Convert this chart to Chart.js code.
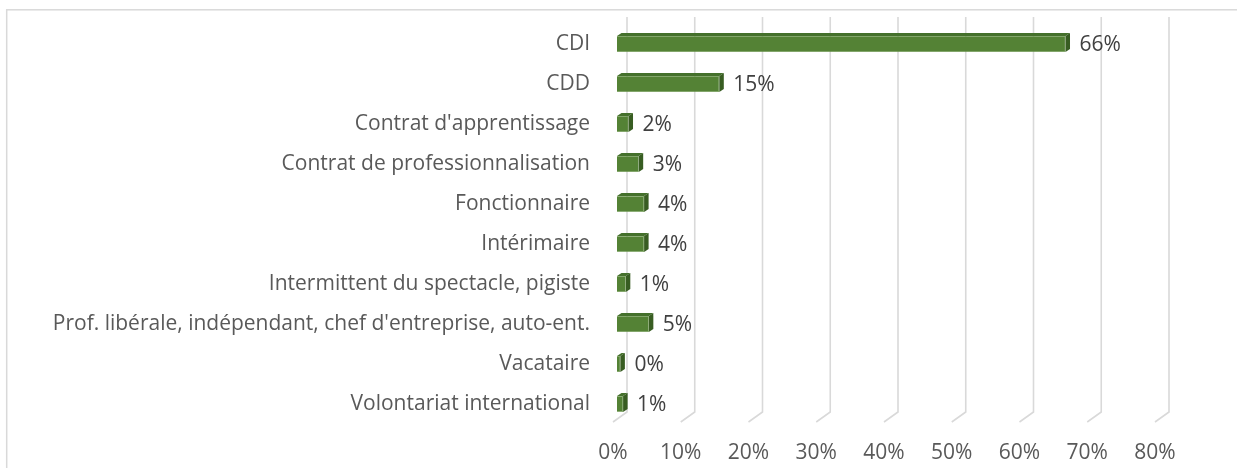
<!DOCTYPE html>
<html>
<head>
<meta charset="utf-8">
<script src="https://cdn.jsdelivr.net/npm/chart.js@4"></script>
<style>
  html, body { margin: 0; padding: 0; background: #fff; }
  #wrap { width: 1237px; height: 468px; }
</style>
</head>
<body>
<div id="wrap"><canvas id="contrats" width="1237" height="468"></canvas></div>
<script>
const categories = [
  "CDI",
  "CDD",
  "Contrat d'apprentissage",
  "Contrat de professionnalisation",
  "Fonctionnaire",
  "Intérimaire",
  "Intermittent du spectacle, pigiste",
  "Prof. libérale, indépendant, chef d'entreprise, auto-ent.",
  "Vacataire",
  "Volontariat international"
];
// share of respondents (fraction)
const shares = [0.662, 0.151, 0.017, 0.032, 0.040, 0.040, 0.013, 0.047, 0.005, 0.009];
const shareLabels = ["66%", "15%", "2%", "3%", "4%", "4%", "1%", "5%", "0%", "1%"];
const axisMax = 0.8;
const axisStep = 0.1;

const FONT = "'Open Sans', sans-serif";
const FONT_SIZE = 21;
const DEPTH_X = 4.5, DEPTH_Y = 3;

// chart frame
const framePlugin = {
  id: "frame",
  beforeDraw(chart) {
    const ctx = chart.ctx;
    ctx.save();
    ctx.strokeStyle = "#d9d9d9";
    ctx.lineWidth = 1.5;
    ctx.strokeRect(6.7, 9.8, 1300, 500);
    ctx.restore();
  }
};

// back wall gridlines with the slanted floor segment
const wallGrid = {
  id: "wallGrid",
  beforeDatasetsDraw(chart) {
    const ctx = chart.ctx;
    const xs = chart.scales.x;
    const area = chart.chartArea;
    ctx.save();
    ctx.strokeStyle = "#d9d9d9";
    ctx.lineWidth = 1.6;
    for (let v = 0; v <= axisMax + 1e-9; v += axisStep) {
      const x = xs.getPixelForValue(v);
      ctx.beginPath();
      ctx.moveTo(x + 10, area.top - 7);
      ctx.lineTo(x + 10, area.bottom - 12);
      ctx.lineTo(x - 4, area.bottom - 2);
      ctx.stroke();
    }
    ctx.restore();
  }
};

// top and side faces of the bars, plus value labels
const bars3d = {
  id: "bars3d",
  afterDatasetsDraw(chart) {
    const ctx = chart.ctx;
    const meta = chart.getDatasetMeta(0);
    ctx.save();
    meta.data.forEach((bar, i) => {
      const p = bar.getProps(["x", "y", "base", "height"], true);
      const top = p.y - p.height / 2;
      const bottom = p.y + p.height / 2;
      const left = p.base, right = p.x;
      ctx.fillStyle = "#44702b";
      ctx.beginPath();
      ctx.moveTo(left, top);
      ctx.lineTo(left + DEPTH_X, top - DEPTH_Y);
      ctx.lineTo(right + DEPTH_X, top - DEPTH_Y);
      ctx.lineTo(right, top);
      ctx.closePath();
      ctx.fill();
      ctx.fillStyle = "#385d22";
      ctx.beginPath();
      ctx.moveTo(right, top);
      ctx.lineTo(right + DEPTH_X, top - DEPTH_Y);
      ctx.lineTo(right + DEPTH_X, bottom - DEPTH_Y);
      ctx.lineTo(right, bottom);
      ctx.closePath();
      ctx.fill();

      ctx.fillStyle = "#404040";
      ctx.font = FONT_SIZE + "px " + FONT;
      ctx.textAlign = "left";
      ctx.textBaseline = "middle";
      ctx.fillText(shareLabels[i], right + 14, p.y + 1);
    });
    ctx.restore();
  }
};

const config = {
  type: "bar",
  data: {
    labels: categories,
    datasets: [{
      data: shares,
      backgroundColor: "#548235",
      borderColor: "#6a9a4b",
      borderWidth: 0.6,
      barPercentage: 0.4,
      categoryPercentage: 1
    }]
  },
  options: {
    indexAxis: "y",
    responsive: false,
    animation: false,
    layout: {
      padding: { top: 24, right: 78, bottom: 0, left: 0 }
    },
    scales: {
      x: {
        min: 0,
        max: axisMax,
        grid: { display: false, drawTicks: false },
        border: { display: false },
        ticks: {
          stepSize: axisStep,
          labelOffset: -4,
          padding: 16,
          color: "#595959",
          font: { family: FONT, size: FONT_SIZE },
          callback: (v) => Math.round(v * 100) + "%"
        },
        afterFit(scale) {
          scale.height = 44;
          scale.paddingLeft = 0;
          scale.paddingRight = 0;
        }
      },
      y: {
        grid: { display: false, drawTicks: false },
        border: { display: false },
        ticks: {
          padding: 27,
          color: "#595959",
          font: { family: FONT, size: FONT_SIZE },
          autoSkip: false
        },
        afterFit(scale) {
          scale.width = 617;
          scale.paddingTop = 0;
          scale.paddingBottom = 0;
        }
      }
    },
    plugins: {
      legend: { display: false },
      tooltip: { enabled: false }
    }
  },
  plugins: [framePlugin, wallGrid, bars3d]
};

new Chart(document.getElementById("contrats").getContext("2d"), config);
</script>
</body>
</html>
